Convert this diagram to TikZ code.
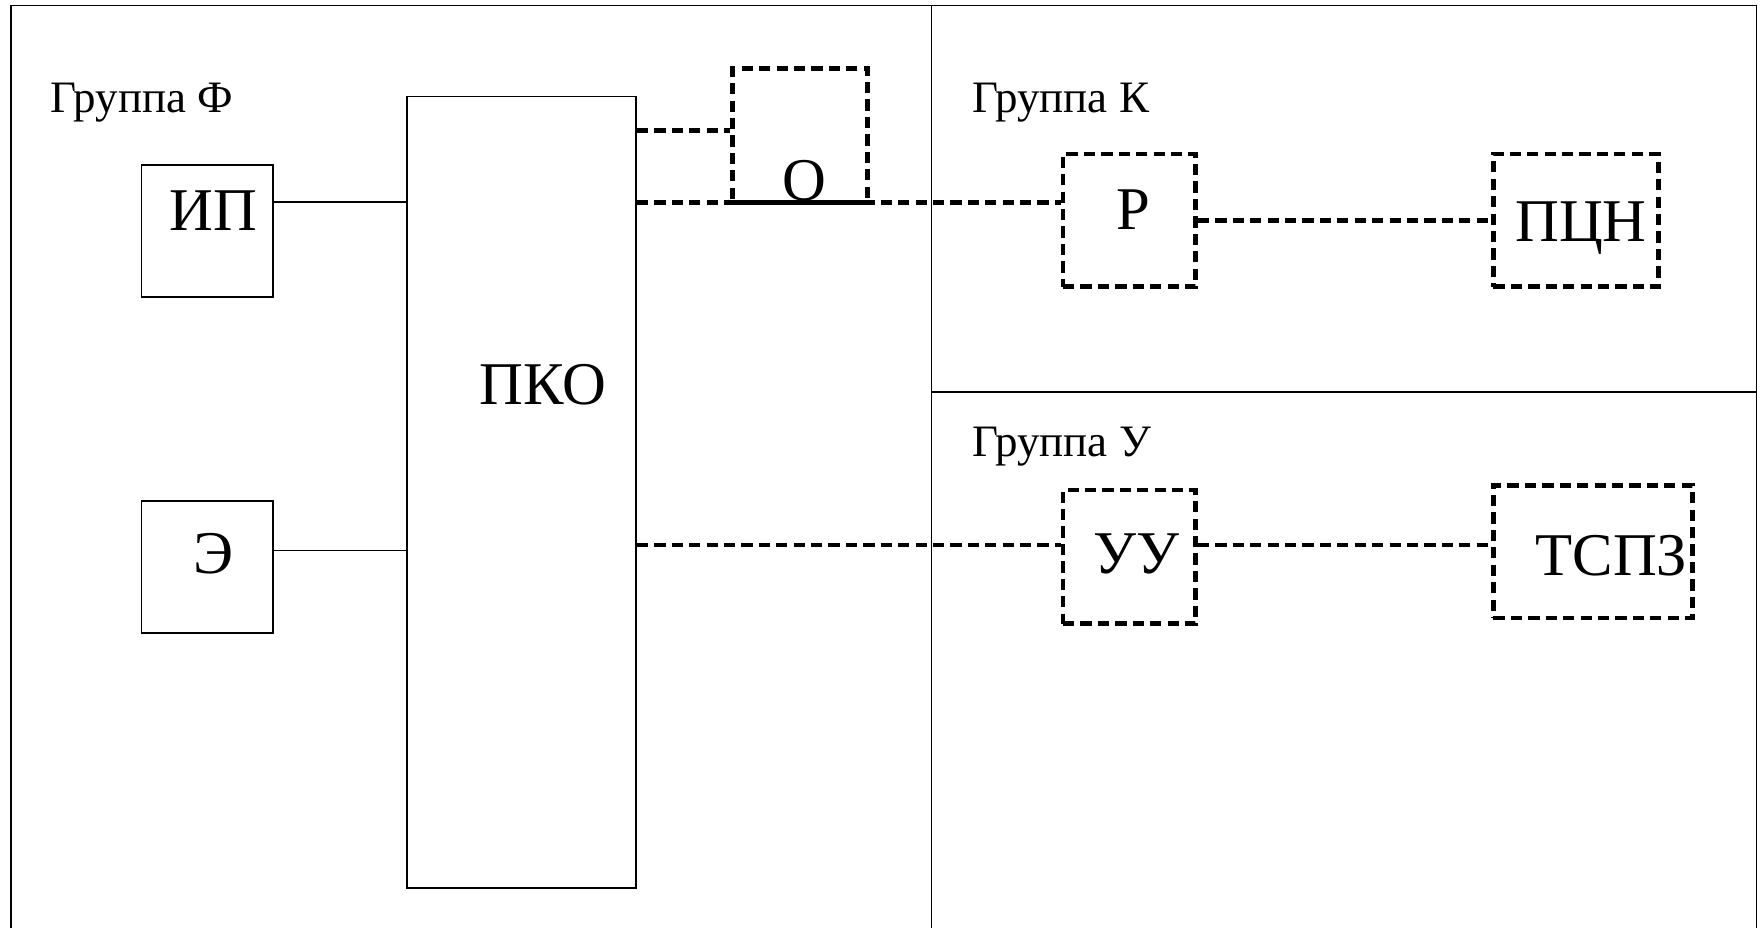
\documentclass[tikz,border=0pt]{standalone}
\usepackage{fontspec}
\setmainfont{Liberation Serif}
\begin{document}
\begin{tikzpicture}[x=1pt,y=-1pt,
  solidbox/.style={draw=black, line width=1.5pt, fill=none, inner sep=0pt},
  dashbox/.style={draw=black, line width=4pt, dash pattern=on 10pt off 5.5pt, inner sep=0pt},
  solidline/.style={draw=black, line width=1.5pt},
  dashline/.style={draw=black, line width=4.2pt, dash pattern=on 10pt off 5.5pt},
  frameline/.style={draw=black, line width=1.5pt},
  grouplabel/.style={font=\fontsize{40}{44}\selectfont, inner sep=0pt, anchor=base west},
  boxlabel/.style={font=\fontsize{54}{58}\selectfont, inner sep=0pt, anchor=base}]
\useasboundingbox (0,0) rectangle (1568,826);
\fill[white] (0,0) rectangle (1568,826);
% frame
\draw[frameline] (10,826) -- (10,5) -- (1563,5) -- (1563,826);
\draw[frameline] (829,5) -- (829,826);
\draw[frameline] (829,349) -- (1563,349);
% group labels
\node[grouplabel] (gf) at (45,100) {Группа Ф};
\node[grouplabel] (gk) at (865,100) {Группа К};
\node[grouplabel] (gu) at (865,406) {Группа У};
% boxes
\node[solidbox, minimum width=117, minimum height=117] (ip) at (184.5,205.5) {};
\node[solidbox, minimum width=117, minimum height=117] (e) at (184.5,504.5) {};
\node[solidbox, minimum width=204, minimum height=704] (pko) at (464,438) {};
\node[dashbox, minimum width=120, minimum height=119] (o) at (712,120.5) {};
\node[dashbox, minimum width=118, minimum height=118] (r) at (1005,196) {};
\node[dashbox, minimum width=147, minimum height=118] (pcn) at (1402.5,196) {};
\node[dashbox, minimum width=118, minimum height=119] (uu) at (1005,495.5) {};
\node[dashbox, minimum width=177, minimum height=118] (tspz) at (1417.5,491) {};
% box texts
\node[boxlabel] (tip) at (190,205) {ИП};
\node[boxlabel] (te) at (190,510) {Э};
\node[boxlabel] (tpko) at (483,360) {ПКО};
\node[boxlabel] (to) at (716,178) {О};
\node[boxlabel] (tr) at (1009,204) {Р};
\node[boxlabel] (tpcn) at (1407,215) {ПЦН};
\node[boxlabel] (tuu) at (1011,510) {УУ};
\node[boxlabel] (ttspz) at (1434,512) {ТСПЗ};
% connectors
\draw[solidline] (ip.east |- 0,180) -- (pko.west |- 0,180);
\draw[solidline] (e.east |- 0,490) -- (pko.west |- 0,490);
\draw[dashline] (pko.east |- 0,116) -- (o.west |- 0,116);
\draw[dashline] (pko.east |- 0,180) -- (r.west |- 0,180);
\draw[dashline] (r.east |- 0,196) -- (pcn.west |- 0,196);
\draw[dashline] (pko.east |- 0,485) -- (uu.west |- 0,485);
\draw[dashline] (uu.east |- 0,485) -- (tspz.west |- 0,485);
\end{tikzpicture}
\end{document}
